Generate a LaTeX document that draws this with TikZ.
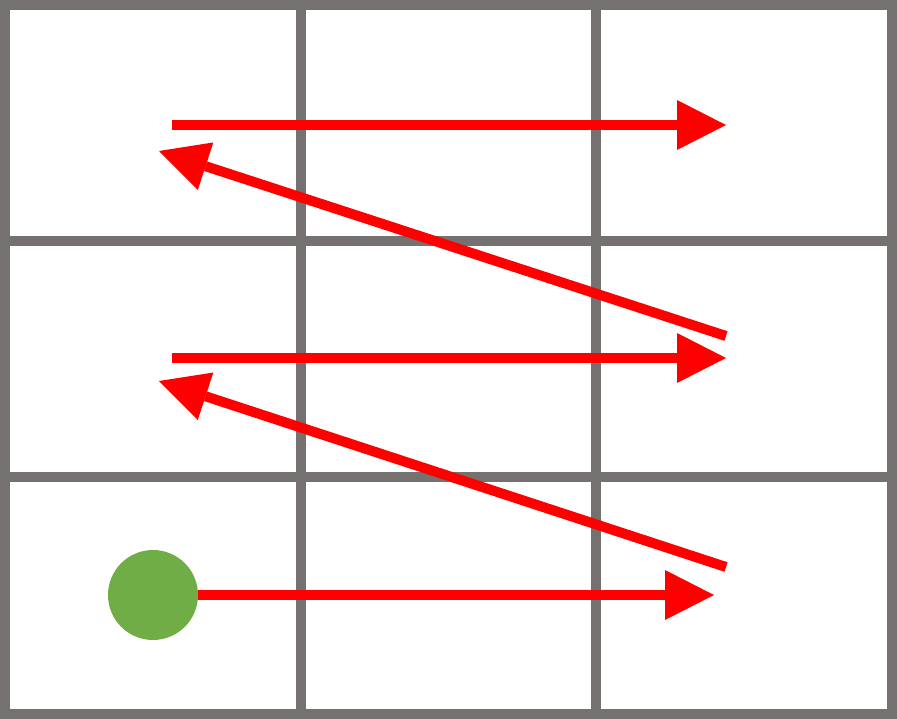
\documentclass[tikz,border=0pt]{standalone}
\usetikzlibrary{arrows.meta}
\definecolor{gridgray}{HTML}{767171}
\definecolor{pathred}{HTML}{FF0000}
\definecolor{dotgreen}{HTML}{70AD47}
\begin{document}
\begin{tikzpicture}[x=1pt,y=-1pt,
  gridline/.style={draw=gridgray,line width=10pt},
  zig/.style={draw=pathred,line width=10pt,-{Triangle[length=49pt,width=50pt,line width=0pt]}},
  dot/.style={circle,fill=dotgreen,minimum size=90pt,inner sep=0pt}]
\useasboundingbox (0,0) rectangle (897,719);
\fill[white] (0,0) rectangle (897,719);
% grid
\draw[gridline] (5,5) rectangle (892,714);
\draw[gridline] (301,5) -- (301,714);
\draw[gridline] (596,5) -- (596,714);
\draw[gridline] (5,241) -- (892,241);
\draw[gridline] (5,477) -- (892,477);
% coordinates
\coordinate (a1) at (172,125);
\coordinate (a2) at (726,125);
\coordinate (b1) at (726,336);
\coordinate (b2) at (159,151);
\coordinate (c1) at (172,358);
\coordinate (c2) at (726,358);
\coordinate (d1) at (726,567);
\coordinate (d2) at (159,381);
\coordinate (e2) at (714,595);
\node[dot] (start) at (153,595) {};
% path
\draw[zig] (a1) -- (a2);
\draw[zig] (b1) -- (b2);
\draw[zig] (c1) -- (c2);
\draw[zig] (d1) -- (d2);
\draw[zig] (start.east) -- (e2);
\end{tikzpicture}
\end{document}
